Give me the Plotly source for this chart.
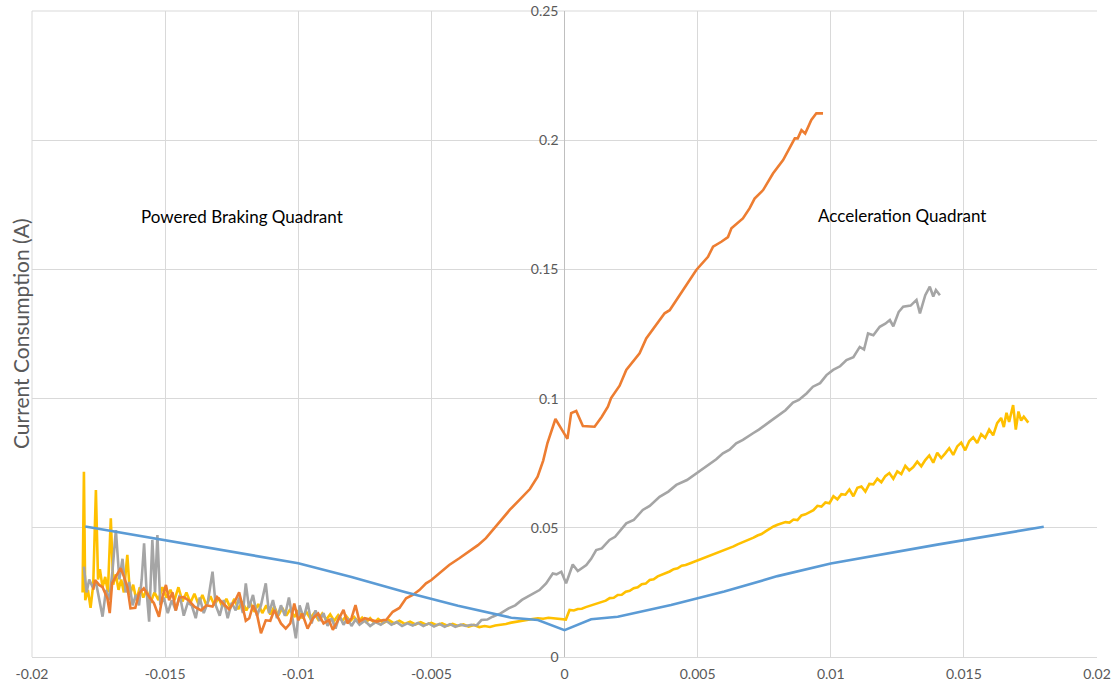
import plotly.graph_objects as go

# ---------------- data ----------------
blue_x = [-0.018, -0.014, -0.010, -0.008, -0.006, -0.004, -0.002, -0.001, 0.0,
          0.001, 0.002, 0.004, 0.006, 0.008, 0.010, 0.014, 0.018]
blue_y = [0.0505, 0.0435, 0.0363, 0.0310, 0.0252, 0.0198, 0.0152, 0.0143, 0.0104,
          0.0146, 0.0156, 0.0201, 0.0253, 0.0313, 0.0362, 0.0435, 0.0504]

orange_x = [-0.01770, -0.01763, -0.01748, -0.01735, -0.01717, -0.01708, -0.01699, -0.01685,
            -0.01667, -0.01655, -0.01642, -0.01630, -0.01612, -0.01598, -0.01580, -0.01560,
            -0.01542, -0.01523, -0.01510, -0.01497, -0.01485, -0.01472, -0.01460, -0.01447,
            -0.01430, -0.01410, -0.01390, -0.01365, -0.01345, -0.01322, -0.01305, -0.01285,
            -0.01260, -0.01235, -0.01222, -0.01210, -0.01197, -0.01184, -0.01170, -0.01155,
            -0.01140, -0.01122, -0.01105, -0.01090, -0.01078, -0.01065, -0.01047, -0.01030,
            -0.01015, -0.01000, -0.00985, -0.00965, -0.00945, -0.00925, -0.00905, -0.00885,
            -0.00870, -0.00850, -0.00830, -0.00815, -0.00800, -0.00785, -0.00770, -0.00750,
            -0.00730, -0.00705, -0.00680, -0.00670, -0.00645, -0.00620, -0.00595, -0.00570,
            -0.00545, -0.00520, -0.00500, -0.00470, -0.00433, -0.00395, -0.00357, -0.00325,
            -0.00295, -0.00244, -0.00205, -0.00169, -0.00130, -0.00101, -0.00080, -0.00064,
            -0.00034, -0.00010, 0.00011, 0.00025, 0.00044, 0.00069, 0.00113, 0.00140,
            0.00163, 0.00175, 0.00207, 0.00232, 0.00282, 0.00307, 0.00345, 0.00376,
            0.00395, 0.00445, 0.00495, 0.00539, 0.00558, 0.00589, 0.00614, 0.00627,
            0.00670, 0.00695, 0.00714, 0.00746, 0.00783, 0.00821, 0.00846, 0.00865,
            0.00876, 0.00890, 0.00904, 0.00927, 0.00946, 0.00971]
orange_y = [0.0260, 0.0298, 0.0279, 0.0270, 0.0227, 0.0170, 0.0286, 0.0312,
            0.0344, 0.0312, 0.0272, 0.0188, 0.0190, 0.0246, 0.0266, 0.0233,
            0.0208, 0.0156, 0.0233, 0.0279, 0.0220, 0.0250, 0.0180, 0.0230,
            0.0232, 0.0218, 0.0195, 0.0180, 0.0200, 0.0195, 0.0232, 0.0210,
            0.0185, 0.0222, 0.0250, 0.0200, 0.0140, 0.0150, 0.0200, 0.0165,
            0.0092, 0.0142, 0.0140, 0.0182, 0.0155, 0.0130, 0.0110, 0.0130,
            0.0207, 0.0142, 0.0168, 0.0110, 0.0150, 0.0168, 0.0130, 0.0143,
            0.0105, 0.0143, 0.0182, 0.0130, 0.0150, 0.0201, 0.0137, 0.0150,
            0.0143, 0.0137, 0.0143, 0.0143, 0.0175, 0.0190, 0.0227, 0.0240,
            0.0259, 0.0285, 0.0298, 0.0323, 0.0356, 0.0382, 0.0408, 0.0433,
            0.0460, 0.0524, 0.0570, 0.0608, 0.0650, 0.0698, 0.0760, 0.0828,
            0.0921, 0.0880, 0.0844, 0.0944, 0.0952, 0.0894, 0.0891, 0.0930,
            0.0969, 0.1002, 0.1050, 0.1111, 0.1175, 0.1233, 0.1285, 0.1330,
            0.1342, 0.1420, 0.1498, 0.1549, 0.1588, 0.1607, 0.1625, 0.1659,
            0.1697, 0.1736, 0.1774, 0.1807, 0.1871, 0.1923, 0.1970, 0.2007,
            0.2007, 0.2039, 0.2026, 0.2078, 0.2104, 0.2104]

gray_x = [-0.01805, -0.01795, -0.01785, -0.01772, -0.01760, -0.01748, -0.01735, -0.01722,
          -0.01710, -0.01698, -0.01685, -0.01672, -0.01660, -0.01648, -0.01635, -0.01622,
          -0.01610, -0.01598, -0.01588, -0.01579, -0.01570, -0.01560, -0.01548, -0.01538,
          -0.01529, -0.01518, -0.01505, -0.01490, -0.01475, -0.01460, -0.01445, -0.01430,
          -0.01415, -0.01400, -0.01385, -0.01370, -0.01355, -0.01340, -0.01322, -0.01310,
          -0.01295, -0.01280, -0.01265, -0.01250, -0.01235, -0.01222, -0.01208, -0.01197,
          -0.01185, -0.01170, -0.01155, -0.01140, -0.01122, -0.01110, -0.01095, -0.01080,
          -0.01065, -0.01050, -0.01035, -0.01020, -0.01009, -0.00995, -0.00980, -0.00965,
          -0.00950, -0.00935, -0.00920, -0.00905, -0.00890, -0.00875, -0.00860, -0.00845,
          -0.00830, -0.00815, -0.00800, -0.00785, -0.00770, -0.00750, -0.00730, -0.00710,
          -0.00690, -0.00670, -0.00650, -0.00630, -0.00610, -0.00590, -0.00570, -0.00550,
          -0.00530, -0.00510, -0.00490, -0.00470, -0.00450, -0.00430, -0.00410, -0.00390,
          -0.00370, -0.00350, -0.00330, -0.00312, -0.00290, -0.00270, -0.00240, -0.00210,
          -0.00185, -0.00160, -0.00125, -0.00094, -0.00069, -0.00044, -0.00030, -0.00012,
          0.00006, 0.00031, 0.00050, 0.00082, 0.00100, 0.00119, 0.00140, 0.00169,
          0.00190, 0.00210, 0.00232, 0.00260, 0.00294, 0.00320, 0.00357, 0.00390,
          0.00420, 0.00460, 0.00495, 0.00520, 0.00545, 0.00570, 0.00595, 0.00620,
          0.00645, 0.00670, 0.00708, 0.00730, 0.00771, 0.00790, 0.00808, 0.00830,
          0.00858, 0.00880, 0.00909, 0.00933, 0.00960, 0.00984, 0.01009, 0.01035,
          0.01059, 0.01085, 0.01109, 0.01125, 0.01140, 0.01160, 0.01184, 0.01205,
          0.01222, 0.01235, 0.01255, 0.01272, 0.01300, 0.01322, 0.01335, 0.01355,
          0.01372, 0.01385, 0.01395, 0.01410]
gray_y = [0.0350, 0.0250, 0.0300, 0.0270, 0.0290, 0.0230, 0.0156, 0.0260,
          0.0220, 0.0330, 0.0491, 0.0300, 0.0380, 0.0250, 0.0290, 0.0200,
          0.0240, 0.0200, 0.0300, 0.0440, 0.0260, 0.0137, 0.0453, 0.0250,
          0.0472, 0.0200, 0.0230, 0.0170, 0.0220, 0.0180, 0.0240, 0.0160,
          0.0210, 0.0200, 0.0150, 0.0230, 0.0170, 0.0210, 0.0330, 0.0200,
          0.0160, 0.0220, 0.0150, 0.0210, 0.0180, 0.0230, 0.0170, 0.0285,
          0.0190, 0.0240, 0.0160, 0.0200, 0.0285, 0.0170, 0.0220, 0.0150,
          0.0200, 0.0160, 0.0230, 0.0140, 0.0072, 0.0200, 0.0150, 0.0210,
          0.0130, 0.0180, 0.0140, 0.0170, 0.0120, 0.0150, 0.0110, 0.0160,
          0.0125, 0.0150, 0.0120, 0.0145, 0.0125, 0.0140, 0.0120, 0.0135,
          0.0125, 0.0140, 0.0125, 0.0135, 0.0120, 0.0130, 0.0122, 0.0132,
          0.0120, 0.0130, 0.0118, 0.0128, 0.0117, 0.0127, 0.0117, 0.0125,
          0.0120, 0.0125, 0.0122, 0.0143, 0.0145, 0.0156, 0.0169, 0.0188,
          0.0200, 0.0221, 0.0240, 0.0259, 0.0285, 0.0323, 0.0320, 0.0330,
          0.0285, 0.0358, 0.0333, 0.0356, 0.0380, 0.0414, 0.0420, 0.0453,
          0.0465, 0.0490, 0.0517, 0.0530, 0.0569, 0.0585, 0.0620, 0.0640,
          0.0666, 0.0685, 0.0711, 0.0728, 0.0749, 0.0765, 0.0788, 0.0802,
          0.0827, 0.0840, 0.0866, 0.0880, 0.0911, 0.0925, 0.0940, 0.0955,
          0.0985, 0.0995, 0.1020, 0.1046, 0.1060, 0.1091, 0.1111, 0.1125,
          0.1149, 0.1160, 0.1200, 0.1190, 0.1252, 0.1245, 0.1278, 0.1290,
          0.1304, 0.1280, 0.1335, 0.1356, 0.1360, 0.1382, 0.1330, 0.1400,
          0.1433, 0.1395, 0.1420, 0.1400]

yellow_x = [-0.01810, -0.01805, -0.01800, -0.01790, -0.01780, -0.01770, -0.01760, -0.01752,
            -0.01745, -0.01735, -0.01725, -0.01715, -0.01704, -0.01695, -0.01685, -0.01675,
            -0.01665, -0.01655, -0.01642, -0.01632, -0.01620, -0.01608, -0.01595, -0.01582,
            -0.01570, -0.01555, -0.01540, -0.01525, -0.01510, -0.01495, -0.01480, -0.01465,
            -0.01450, -0.01435, -0.01420, -0.01405, -0.01390, -0.01375, -0.01360, -0.01345,
            -0.01330, -0.01315, -0.01300, -0.01285, -0.01270, -0.01255, -0.01240, -0.01225,
            -0.01210, -0.01195, -0.01180, -0.01165, -0.01150, -0.01135, -0.01120, -0.01105,
            -0.01090, -0.01075, -0.01060, -0.01045, -0.01030, -0.01015, -0.01000, -0.00985,
            -0.00970, -0.00955, -0.00940, -0.00925, -0.00910, -0.00895, -0.00880, -0.00865,
            -0.00850, -0.00835, -0.00820, -0.00805, -0.00790, -0.00775, -0.00760, -0.00745,
            -0.00730, -0.00715, -0.00700, -0.00680, -0.00660, -0.00640, -0.00620, -0.00600,
            -0.00580, -0.00560, -0.00540, -0.00520, -0.00500, -0.00480, -0.00460, -0.00440,
            -0.00420, -0.00400, -0.00380, -0.00360, -0.00340, -0.00320, -0.00300, -0.00280,
            -0.00260, -0.00240, -0.00220, -0.00200, -0.00180, -0.00160, -0.00140, -0.00120,
            -0.00100, -0.00080, -0.00060, -0.00040, -0.00020, 0.00005,
            0.00019, 0.00035, 0.00050, 0.00065, 0.00080, 0.00095, 0.00110, 0.00125,
            0.00140, 0.00155, 0.00170, 0.00185, 0.00200, 0.00215, 0.00230, 0.00245,
            0.00260, 0.00275, 0.00290, 0.00305, 0.00320, 0.00335, 0.00350, 0.00365,
            0.00380, 0.00395, 0.00410, 0.00425, 0.00440, 0.00455, 0.00470, 0.00485,
            0.00500, 0.00515, 0.00530, 0.00545, 0.00560, 0.00575, 0.00590, 0.00605,
            0.00620, 0.00635, 0.00650, 0.00665, 0.00680, 0.00695, 0.00710, 0.00725,
            0.00740, 0.00755, 0.00770, 0.00785, 0.00800, 0.00815, 0.00830, 0.00845,
            0.00860, 0.00875, 0.00890, 0.00905, 0.00920, 0.00935, 0.00950, 0.00965,
            0.00980, 0.00995, 0.01010, 0.01025, 0.01040, 0.01055, 0.01070, 0.01085,
            0.01100, 0.01115, 0.01130, 0.01145, 0.01160, 0.01175, 0.01190, 0.01205,
            0.01220, 0.01235, 0.01250, 0.01265, 0.01280, 0.01295, 0.01310, 0.01325,
            0.01340, 0.01355, 0.01370, 0.01385, 0.01400, 0.01415, 0.01430, 0.01445,
            0.01460, 0.01475, 0.01490, 0.01505, 0.01520, 0.01535, 0.01550, 0.01565,
            0.01580, 0.01595, 0.01610, 0.01625, 0.01640, 0.01650, 0.01660, 0.01670,
            0.01685, 0.01695, 0.01705, 0.01715, 0.01725, 0.01742]
yellow_y = [0.0250, 0.0717, 0.0220, 0.0260, 0.0190, 0.0280, 0.0646, 0.0300,
            0.0340, 0.0270, 0.0310, 0.0250, 0.0537, 0.0280, 0.0320, 0.0260,
            0.0300, 0.0250, 0.0395, 0.0240, 0.0280, 0.0220, 0.0270, 0.0230,
            0.0260, 0.0210, 0.0250, 0.0220, 0.0270, 0.0230, 0.0260, 0.0220,
            0.0270, 0.0215, 0.0250, 0.0210, 0.0245, 0.0205, 0.0240, 0.0200,
            0.0235, 0.0200, 0.0230, 0.0195, 0.0225, 0.0190, 0.0225, 0.0185,
            0.0215, 0.0180, 0.0210, 0.0175, 0.0205, 0.0170, 0.0200, 0.0165,
            0.0195, 0.0160, 0.0190, 0.0160, 0.0185, 0.0155, 0.0180, 0.0150,
            0.0175, 0.0150, 0.0170, 0.0145, 0.0168, 0.0145, 0.0165, 0.0140,
            0.0162, 0.0140, 0.0158, 0.0138, 0.0155, 0.0137, 0.0152, 0.0135,
            0.0150, 0.0133, 0.0147, 0.0132, 0.0143, 0.0130, 0.0140, 0.0128,
            0.0137, 0.0126, 0.0135, 0.0125, 0.0132, 0.0123, 0.0130, 0.0121,
            0.0128, 0.0120, 0.0126, 0.0118, 0.0124, 0.0116, 0.0120, 0.0116,
            0.0122, 0.0124, 0.0128, 0.0133, 0.0137, 0.0140, 0.0145, 0.0147,
            0.0150, 0.0148, 0.0152, 0.0150, 0.0150, 0.0145,
            0.0182, 0.0180, 0.0186, 0.0187, 0.0193, 0.0198, 0.0204, 0.0207,
            0.0214, 0.0218, 0.0228, 0.0229, 0.0240, 0.0241, 0.0253, 0.0256,
            0.0266, 0.0270, 0.0282, 0.0284, 0.0298, 0.0301, 0.0312, 0.0318,
            0.0325, 0.0331, 0.0340, 0.0343, 0.0353, 0.0356, 0.0362, 0.0368,
            0.0374, 0.0380, 0.0384, 0.0392, 0.0396, 0.0405, 0.0410, 0.0416,
            0.0422, 0.0428, 0.0436, 0.0442, 0.0450, 0.0455, 0.0462, 0.0470,
            0.0476, 0.0486, 0.0496, 0.0505, 0.0512, 0.0516, 0.0522, 0.0520,
            0.0532, 0.0530, 0.0548, 0.0552, 0.0560, 0.0568, 0.0585, 0.0582,
            0.0598, 0.0595, 0.0622, 0.0610, 0.0630, 0.0628, 0.0648, 0.0622,
            0.0655, 0.0660, 0.0640, 0.0670, 0.0668, 0.0690, 0.0676, 0.0700,
            0.0712, 0.0690, 0.0718, 0.0708, 0.0740, 0.0722, 0.0735, 0.0756,
            0.0738, 0.0762, 0.0780, 0.0752, 0.0790, 0.0770, 0.0788, 0.0808,
            0.0782, 0.0815, 0.0830, 0.0800, 0.0835, 0.0850, 0.0828, 0.0862,
            0.0848, 0.0880, 0.0858, 0.0905, 0.0925, 0.0890, 0.0945, 0.0910,
            0.0975, 0.0880, 0.0950, 0.0915, 0.0930, 0.0907]

x_tick_vals = [-0.02, -0.015, -0.01, -0.005, 0, 0.005, 0.01, 0.015, 0.02]
x_tick_text = ["-0.02", "-0.015", "-0.01", "-0.005", "0", "0.005", "0.01", "0.015", "0.02"]
y_tick_vals = [0, 0.05, 0.1, 0.15, 0.2, 0.25]
y_tick_text = ["0", "0.05", "0.1", "0.15", "0.2", "0.25"]

# ---------------- figure ----------------
FONT = "Lato, 'Open Sans', sans-serif"
GRID = "#D9D9D9"
LW = 2.6
fig = go.Figure()
fig.add_trace(go.Scatter(x=yellow_x, y=yellow_y, mode="lines",
                         line=dict(color="#FFC000", width=LW), name="yellow"))
fig.add_trace(go.Scatter(x=gray_x, y=gray_y, mode="lines",
                         line=dict(color="#A5A5A5", width=LW), name="gray"))
fig.add_trace(go.Scatter(x=orange_x, y=orange_y, mode="lines",
                         line=dict(color="#ED7D31", width=LW), name="orange"))
fig.add_trace(go.Scatter(x=blue_x, y=blue_y, mode="lines",
                         line=dict(color="#5B9BD5", width=LW), name="blue"))

fig.update_layout(
    width=1118, height=690,
    margin=dict(l=32, r=21, t=11, b=33, autoexpand=False),
    paper_bgcolor="white", plot_bgcolor="white",
    showlegend=False,
    font=dict(family=FONT, size=14, color="#595959"),
    xaxis=dict(range=[-0.02, 0.02], tickvals=x_tick_vals, ticktext=x_tick_text,
               automargin=False,
               showgrid=True, gridcolor=GRID, gridwidth=1,
               zeroline=True, zerolinecolor="#BFBFBF", zerolinewidth=1,
               showline=True, linecolor=GRID, linewidth=1, mirror=False,
               ticks="", ticklabelstandoff=4,
               tickfont=dict(size=14, color="#595959")),
    yaxis=dict(range=[0, 0.25], tickvals=y_tick_vals, ticktext=y_tick_text,
               automargin=False,
               anchor="free", position=0.5, side="left",
               showgrid=True, gridcolor=GRID, gridwidth=1,
               zeroline=False, showline=False, ticks="", ticklabelstandoff=6,
               tickfont=dict(size=14, color="#595959")),
    shapes=[
        dict(type="line", xref="paper", yref="paper", x0=0, x1=1, y0=1, y1=1,
             line=dict(color=GRID, width=1), layer="below"),
        dict(type="line", xref="paper", yref="paper", x0=0, x1=0, y0=0, y1=1,
             line=dict(color=GRID, width=1), layer="below"),
    ],
    annotations=[
        dict(text="Current Consumption (A)", xref="paper", yref="paper",
             x=0, y=0.5, xanchor="center", yanchor="middle", xshift=-12,
             textangle=-90, showarrow=False,
             font=dict(family=FONT, size=21, color="#595959")),
        dict(text="Powered Braking Quadrant", xref="x", yref="y",
             x=-0.0121, y=0.1703, showarrow=False,
             font=dict(family=FONT, size=17, color="#000000")),
        dict(text="Acceleration Quadrant", xref="x", yref="y",
             x=0.01267, y=0.1707, showarrow=False,
             font=dict(family=FONT, size=17, color="#000000")),
    ],
)
fig.write_html("out.html",
               config={"displayModeBar": False},
               post_script="document.body.style.margin='0px';document.body.style.overflow='hidden';")
